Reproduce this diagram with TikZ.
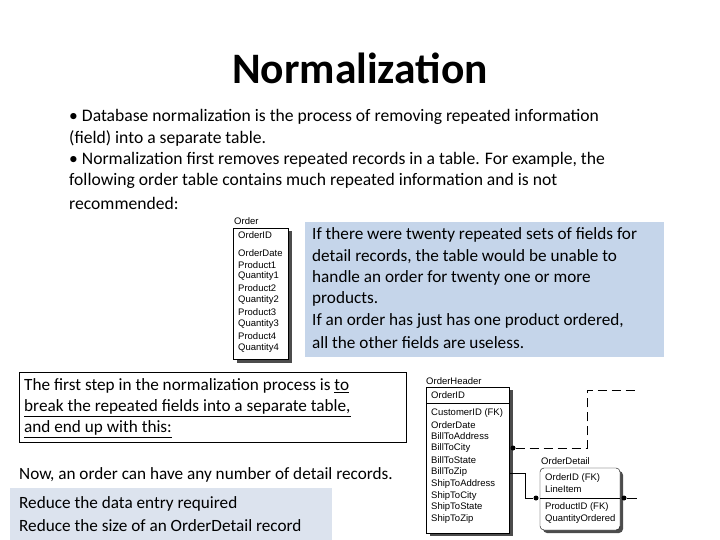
\documentclass[tikz,border=0pt]{standalone}
\usepackage{fontspec}
\setmainfont{Carlito}
\newfontfamily\tbl{Liberation Sans}
\begin{document}
\begin{tikzpicture}[x=1pt,y=-1pt,
  body/.style={anchor=west,inner sep=0pt,font=\fontsize{17.6}{20}\selectfont},
  bbody/.style={anchor=west,inner sep=0pt,font=\fontsize{17.2}{20}\selectfont},
  fld/.style={anchor=west,inner sep=0pt,font=\tbl\fontsize{9.5}{11}\selectfont},
  shadow/.style={fill=black!70},
  dotc/.style={circle,fill=black,inner sep=0pt,minimum size=5pt}]
\useasboundingbox (0,0) rectangle (720,540);
\node[inner sep=0pt,font=\bfseries\fontsize{43.5}{48}\selectfont] (title) at (360,68) {Normalization};
\node[body] (b1) at (69,117) {• Database normalization is the process of removing repeated information};
\node[body] (b2) at (69,138) {(field) into a separate table.};
\node[body] (b3) at (69,160) {• Normalization first removes repeated records in a table. For example, the};
\node[body] (b4) at (69,181) {following order table contains much repeated information and is not};
\node[body] (b5) at (69,203) {recommended:};
% blue box
\fill[fill={rgb,255:red,197;green,213;blue,234}] (305,222) rectangle (664,357);
\foreach \t [count=\i] in {If there were twenty repeated sets of fields for,detail records{,} the table would be unable to,handle an order for twenty one or more,products.,If an order has just has one product ordered{,},all the other fields are useless.}
  \node[bbody] (bl\i) at (312,213+21.6*\i) {\t};
% Order table
\node[fld] (ordt) at (234,221) {Order};
\fill[shadow] (237,231) rectangle (292,363);
\draw[fill=white] (233,228) rectangle (288,359);
\foreach \t/\y [count=\i] in {OrderID/235,OrderDate/253,Product1/265,Quantity1/276,Product2/288,Quantity2/300,Product3/312,Quantity3/324,Product4/336,Quantity4/348}
  \node[fld] (of\i) at (238,\y) {\t};
% first step box
\draw (19,372) rectangle (406,442);
\node[bbody] (s1) at (24,386) {The first step in the normalization process is \underline{to}};
\node[bbody] (s2) at (24,408) {\underline{break the repeated fields into a separate table,}};
\node[bbody] (s3) at (24,429) {\underline{and end up with this:}};
\node[bbody] (now) at (19,475) {Now, an order can have any number of detail records.};
\fill[fill={rgb,255:red,220;green,227;blue,238}] (10,488) rectangle (332,540);
\node[bbody] (r1) at (19,504) {Reduce the data entry required};
\node[bbody] (r2) at (19,526) {Reduce the size of an OrderDetail record};
% OrderHeader
\node[fld] (oht) at (426,381) {OrderHeader};
\fill[shadow] (430,390) rectangle (513,536);
\draw[fill=white] (426,387) rectangle (509,533);
\draw (426,403) -- (509,403);
\foreach \t/\y [count=\i] in {OrderID/395,CustomerID (FK)/413,OrderDate/424.8,BillToAddress/436.6,BillToCity/448.4,BillToState/460.2,BillToZip/472,ShipToAddress/483.8,ShipToCity/495.6,ShipToState/507.4,ShipToZip/519.2}
  \node[fld] (oh\i) at (431,\y) {\t};
% OrderDetail
\node[fld] (odt) at (541,461) {OrderDetail};
\fill[shadow,rounded corners=4pt] (543,471) rectangle (623,533);
\draw[fill=white,rounded corners=4pt] (540,468) rectangle (620,530);
\draw (540,498) -- (620,498);
\foreach \t/\y [count=\i] in {OrderID (FK)/478,LineItem/489,ProductID (FK)/507,QuantityOrdered/519}
  \node[fld] (od\i) at (545,\y) {\t};
% connectors
\node[dotc] (d1) at (513,448) {};
\node[dotc] (d2) at (536,498) {};
\node[dotc] (d3) at (624,498) {};
\coordinate (e1) at (637,390);
\coordinate (e2) at (637,498);
\coordinate (s0) at (510,473);
\draw[dash pattern=on 9pt off 5pt,thick] (d1) -- (587,448) -- (587,390) -- (e1);
\draw[thick] (s0) -- (525,473) -- (525,498) -- (d2);
\draw[thick] (d3) -- (e2);
\end{tikzpicture}
\end{document}
